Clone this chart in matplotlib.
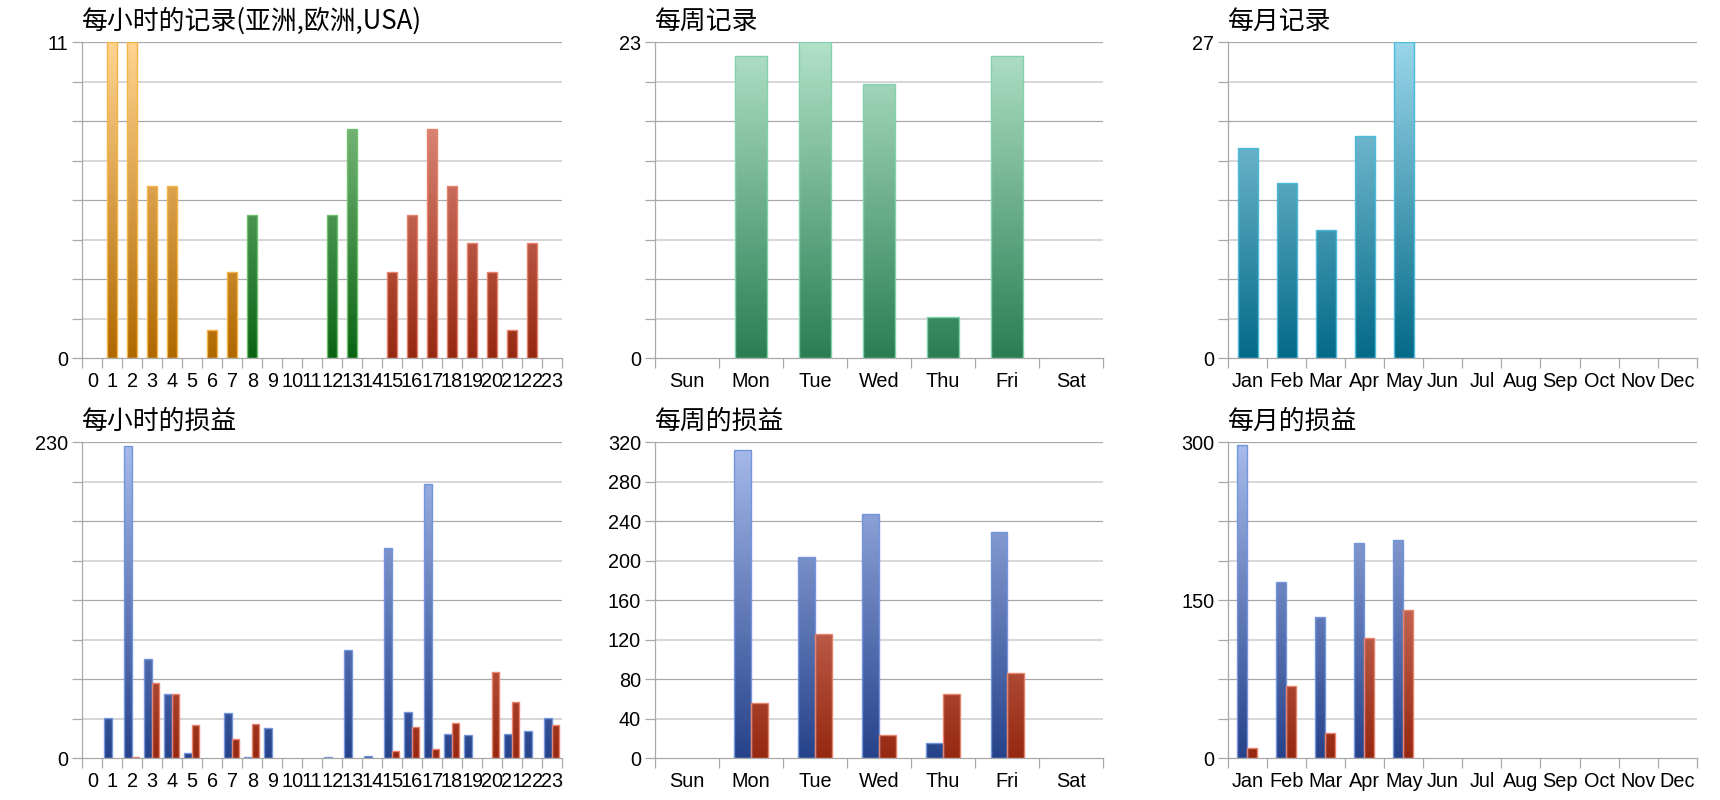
import numpy as np
import matplotlib.pyplot as plt
from matplotlib.colors import LinearSegmentedColormap

plt.rcParams['font.family'] = ['Liberation Sans', 'DejaVu Sans']
CJK = ['Noto Sans CJK SC', 'Liberation Sans']

hours = [str(h) for h in range(24)]
days = ['Sun', 'Mon', 'Tue', 'Wed', 'Thu', 'Fri', 'Sat']
months = ['Jan', 'Feb', 'Mar', 'Apr', 'May', 'Jun', 'Jul', 'Aug', 'Sep', 'Oct', 'Nov', 'Dec']

# records
hour_records = [0, 11, 11, 6, 6, 0, 1, 3, 5, 0, 0, 0, 5, 8, 0, 3, 5, 8, 6, 4, 3, 1, 4, 0]
asia_hours = range(0, 8)
europe_hours = range(8, 15)
usa_hours = range(15, 24)
day_records = [0, 22, 23, 20, 3, 22, 0]
month_records = [18, 15, 11, 19, 27, 0, 0, 0, 0, 0, 0, 0]

# profit / loss
hour_gain = [0, 29, 227, 72, 47, 4, 0, 33, 1, 22, 0, 0, 1, 79, 2, 153, 34, 200, 18, 17, 0, 18, 20, 29]
hour_loss = [0, 0, 1, 55, 47, 24, 0, 14, 25, 0, 0, 0, 0, 0, 0, 5, 23, 7, 26, 0, 63, 41, 0, 24]
day_gain = [0, 312, 204, 247, 16, 229, 0]
day_loss = [0, 56, 126, 24, 65, 86, 0]
month_gain = [297, 167, 134, 204, 207, 0, 0, 0, 0, 0, 0, 0]
month_loss = [10, 69, 24, 114, 141, 0, 0, 0, 0, 0, 0, 0]

ORANGE = ('#B06800', '#FFD592', '#F7B445')
GREEN = ('#0A6414', '#9AD09A', '#70C070')
RED = ('#962810', '#F0A699', '#E8826C')
SEA = ('#2A7E52', '#B2E2CA', '#84D2AC')
TEAL = ('#046A88', '#9AD6EA', '#4CBADA')
BLUE = ('#26428A', '#A8BCEC', '#7494DC')


def grad_bars(ax, x, vals, width, ymax, colors):
    x = np.asarray(x, dtype=float)
    vals = np.asarray(vals, dtype=float)
    keep = vals > 0
    bottom, top, edge = colors
    bars = ax.bar(x[keep], vals[keep], width, facecolor='none',
                  edgecolor=edge, lw=1.0, zorder=3)
    cmap = LinearSegmentedColormap.from_list('g', [bottom, top])
    grad = np.linspace(0, 1, 256).reshape(-1, 1)
    for b in bars:
        im = ax.imshow(grad, extent=[b.get_x(), b.get_x() + b.get_width(), 0, ymax],
                       origin='lower', cmap=cmap, aspect='auto', zorder=2,
                       interpolation='bilinear')
        im.set_clip_path(b)
    return bars


def setup(ax, labels, ymax, ylabels, title):
    n = len(labels)
    steps = np.linspace(0, ymax, 9)
    for i, s in enumerate(steps):
        if i == 0:
            continue
        if i % 2 == 0:
            ax.axhline(s, color='#a8a8a8', lw=0.9, zorder=1)
        else:
            ax.axhline(s, color='#d6d6d6', lw=1.4, zorder=1)
    ax.set_xlim(-0.5, n - 0.5)
    ax.set_ylim(0, ymax)
    ax.set_yticks(steps, minor=True)
    ax.set_yticks(ylabels)
    ax.set_xticks(np.arange(n))
    ax.set_xticklabels(labels)
    ax.set_xticks(np.arange(n + 1) - 0.5, minor=True)
    ax.tick_params(axis='y', which='both', length=7, width=0.9, color='#a8a8a8',
                   labelsize=14.3, pad=3)
    ax.tick_params(axis='x', which='major', length=0, labelsize=14.3, pad=10)
    ax.tick_params(axis='x', which='minor', length=7, width=0.9, color='#a8a8a8')
    for s in ['top', 'right']:
        ax.spines[s].set_visible(False)
    for s in ['left', 'bottom']:
        ax.spines[s].set_color('#a8a8a8')
        ax.spines[s].set_linewidth(0.9)
        ax.spines[s].set_zorder(4)
    ax.set_title(title, loc='left', fontsize=18.6, family=CJK, pad=10)


fig = plt.figure(figsize=(17.2, 8), dpi=100)
cols = [(0.04785, 0.2789), (0.3808, 0.2606), (0.7141, 0.2723)]
rows = [0.5521, 0.0521]
h = 0.395
axes = [[fig.add_axes([cx, ry, cw, h]) for (cx, cw) in cols] for ry in rows]

# hourly records
ax = axes[0][0]
setup(ax, hours, 11, [0, 11], '每小时的记录(亚洲,欧洲,USA)')
for rng, col in [(asia_hours, ORANGE), (europe_hours, GREEN), (usa_hours, RED)]:
    grad_bars(ax, list(rng), [hour_records[i] for i in rng], 0.5, 11, col)

# weekly records
ax = axes[0][1]
setup(ax, days, 23, [0, 23], '每周记录')
grad_bars(ax, range(len(days)), day_records, 0.5, 23, SEA)

# monthly records
ax = axes[0][2]
setup(ax, months, 27, [0, 27], '每月记录')
grad_bars(ax, range(len(months)), month_records, 0.5, 27, TEAL)

# hourly profit/loss
ax = axes[1][0]
setup(ax, hours, 230, [0, 230], '每小时的损益')
x = np.arange(len(hours))
grad_bars(ax, x - 0.215, hour_gain, 0.38, 230, BLUE)
grad_bars(ax, x + 0.165, hour_loss, 0.38, 230, RED)

# weekly profit/loss
ax = axes[1][1]
setup(ax, days, 320, list(range(0, 321, 40)), '每周的损益')
x = np.arange(len(days))
grad_bars(ax, x - 0.13, day_gain, 0.26, 320, BLUE)
grad_bars(ax, x + 0.13, day_loss, 0.26, 320, RED)

# monthly profit/loss
ax = axes[1][2]
setup(ax, months, 300, [0, 150, 300], '每月的损益')
x = np.arange(len(months))
grad_bars(ax, x - 0.15, month_gain, 0.25, 300, BLUE)
grad_bars(ax, x + 0.10, month_loss, 0.25, 300, RED)

fig.savefig('out.png', dpi=100)
